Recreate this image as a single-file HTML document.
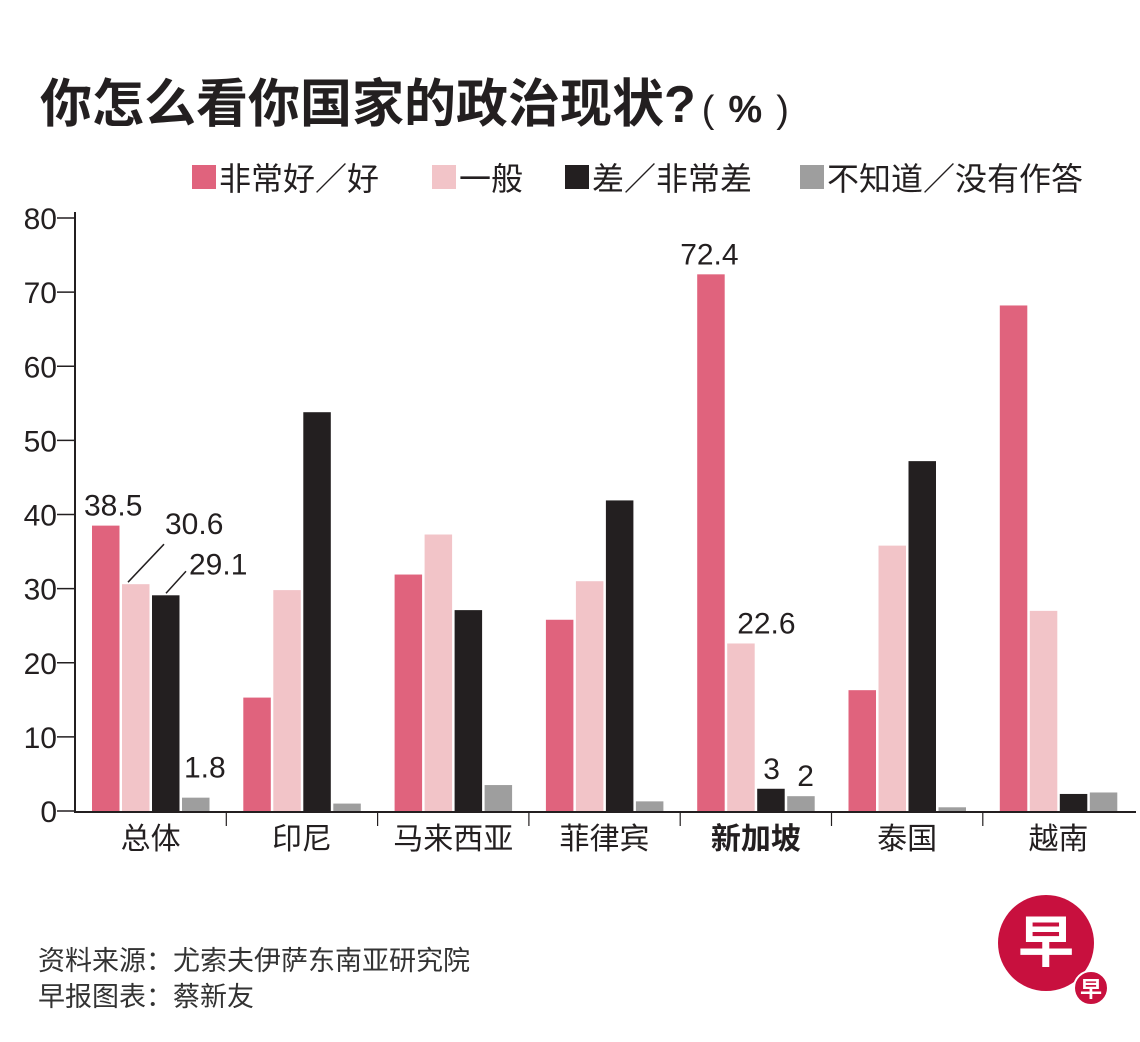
<!DOCTYPE html>
<html><head><meta charset="utf-8"><style>
body{margin:0;background:#fff;width:1140px;height:1037px;overflow:hidden;font-family:"Liberation Sans","Noto Sans CJK SC",sans-serif}
</style></head><body>
<svg id="chart" width="1140" height="1037" xmlns="http://www.w3.org/2000/svg" font-family="Liberation Sans, Noto Sans CJK SC, sans-serif">
<text x="40" y="122" font-size="52" font-weight="bold" fill="#231f20">你怎么看你国家的政治现状?<tspan font-size="38" font-weight="normal" dx="6">(</tspan><tspan font-size="38" font-weight="bold" dx="14">%</tspan><tspan font-size="38" font-weight="normal" dx="14">)</tspan></text>
<g id="legend"></g>
<g id="axes"></g>
<g id="bars"></g>
<g id="labels"></g>
<text x="38" y="970" font-size="27" fill="#333">资料来源：尤索夫伊萨东南亚研究院</text>
<text x="38" y="1006" font-size="27" fill="#333">早报图表：蔡新友</text>
<g>
<circle cx="1046" cy="943" r="48" fill="#c8103e"/>
<text x="1046" y="962" font-size="56" font-weight="bold" fill="#fff" text-anchor="middle">早</text>
<circle cx="1091" cy="988" r="17" fill="#c8103e" stroke="#fff" stroke-width="2"/>
<text x="1091" y="997" font-size="22" font-weight="bold" fill="#fff" text-anchor="middle">早</text>
</g>
</svg>
<script>
const categories=["总体","印尼","马来西亚","菲律宾","新加坡","泰国","越南"];
const seriesNames=["非常好／好","一般","差／非常差","不知道／没有作答"];
const good=[38.5,15.3,31.9,25.8,72.4,16.3,68.2];
const neutral=[30.6,29.8,37.3,31.0,22.6,35.8,27.0];
const bad=[29.1,53.8,27.1,41.9,3,47.2,2.3];
const unknown=[1.8,1.0,3.5,1.3,2,0.5,2.5];
const yTicks=[0,10,20,30,40,50,60,70,80];
const colors=["#e0637d","#f2c4c8","#231f20","#9e9e9e"];
const NS="http://www.w3.org/2000/svg";
const x0=75,catW=151.3,y0=811,yTop=218,yMax=80;
const y=v=>y0-(v/yMax)*(y0-yTop);
const bx=(ci,si)=>x0+ci*catW+17+si*30;
function mk(p,tag,attrs,txt){const e=document.createElementNS(NS,tag);for(const k in attrs)e.setAttribute(k,attrs[k]);if(txt!=null)e.textContent=txt;p.appendChild(e);return e;}
const axes=document.getElementById('axes');
let e=mk(axes,'line',{x1:x0,y1:212,x2:x0,y2:y0+1,stroke:'#231f20','stroke-width':2});

e=mk(axes,'line',{x1:x0-1,y1:y0+1,x2:1136,y2:y0+1,stroke:'#231f20','stroke-width':2});

yTicks.forEach(t=>{
 mk(axes,'line',{x1:x0-18,y1:y(t),x2:x0,y2:y(t),stroke:'#231f20','stroke-width':1.5});
 const l=mk(axes,'text',{x:x0-18,y:y(t)+11,'font-size':30,'text-anchor':'end',fill:'#231f20'},t);
 
 
});
categories.forEach((c,i)=>{
 if(i>0)mk(axes,'line',{x1:x0+i*catW,y1:y0,x2:x0+i*catW,y2:y0+15,stroke:'#231f20','stroke-width':1.2});
 const l=mk(axes,'text',{x:x0+i*catW+catW/2,y:y0+38,'font-size':30,'text-anchor':'middle',fill:'#231f20','font-weight':c==='新加坡'?'bold':'normal'},c);
 
 
});
const bars=document.getElementById('bars');
[good,neutral,bad,unknown].forEach((s,si)=>{
 s.forEach((v,ci)=>{
  const r=mk(bars,'rect',{x:bx(ci,si),y:y(v),width:27.5,height:y0-y(v),fill:colors[si]});
  
  
 });
});
const lg=document.getElementById('legend');
const lx=[192,432,565,800];
seriesNames.forEach((n,i)=>{
 mk(lg,'rect',{x:lx[i],y:165,width:24,height:24,fill:colors[i]});
 const t=mk(lg,'text',{x:lx[i]+27,y:190,'font-size':32,fill:'#231f20'},n);
 
 
});
const lab=document.getElementById('labels');
function vl(ci,si,v,dx,dy){const t=mk(lab,'text',{x:bx(ci,si)+dx,y:y(v)+dy,'font-size':30,fill:'#231f20'},String(v));}
vl(0,0,good[0],-8,-10);
vl(0,1,neutral[0],43,-50);
vl(0,2,bad[0],37,-21);
vl(0,3,unknown[0],2,-20);
vl(4,0,good[4],-17,-10);
vl(4,1,neutral[4],10,-10);
vl(4,2,bad[4],6,-10);
vl(4,3,unknown[4],10,-10);
mk(lab,'line',{x1:bx(0,1)+6,y1:y(neutral[0])-2,x2:bx(0,1)+42,y2:y(neutral[0])-40,stroke:'#231f20','stroke-width':1.5});
mk(lab,'line',{x1:bx(0,2)+14,y1:y(bad[0])-2,x2:bx(0,2)+34,y2:y(bad[0])-24,stroke:'#231f20','stroke-width':1.5});
</script>
</body></html>
